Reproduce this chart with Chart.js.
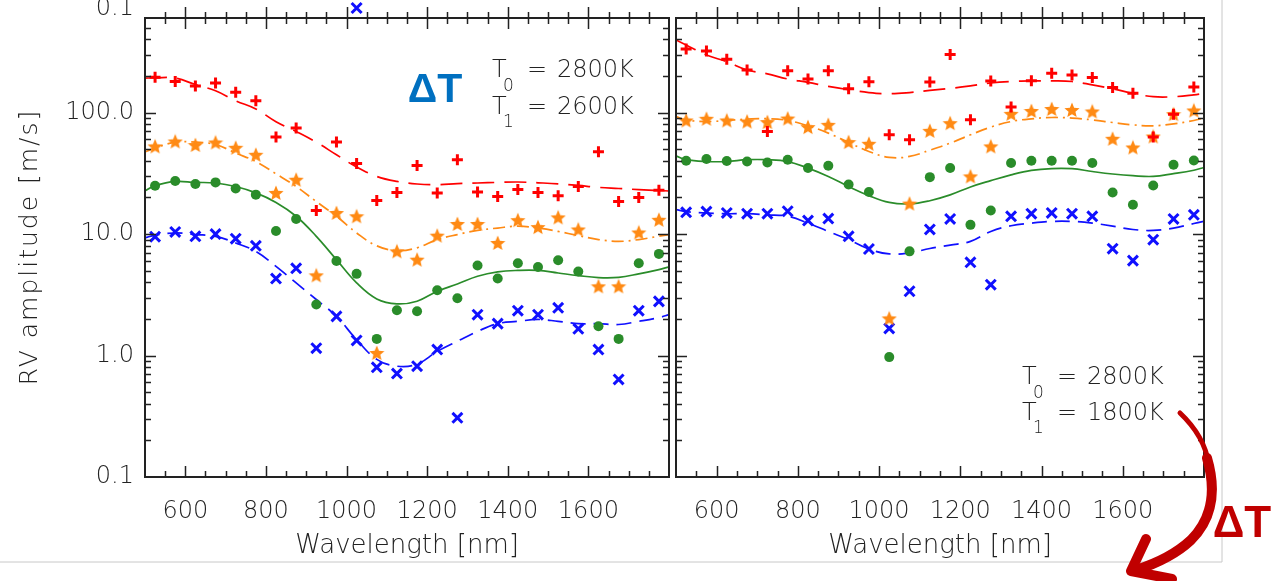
<!DOCTYPE html>
<html>
<head>
<meta charset="utf-8">
<script src="https://cdn.jsdelivr.net/npm/chart.js@4.4.0/dist/chart.umd.min.js"></script>
<style>
  html, body { margin: 0; padding: 0; background: #fff; overflow: hidden; }
  #wrap { position: relative; width: 1271px; height: 581px; }
  canvas { position: absolute; top: 0; }
  #left { left: 0; }
  #right { left: 665px; }
  svg { position: absolute; left: 0; top: 0; pointer-events: none; }
  .lbl { font-family: "DejaVu Sans"; font-weight: 300; fill: #222; }
</style>
</head>
<body>
<div id="wrap">
  <canvas id="left" width="680" height="581"></canvas>
  <canvas id="right" width="606" height="581"></canvas>
  <svg width="1271" height="581">
    <!-- screenshot frame -->
    <line x1="1222" y1="0" x2="1222" y2="562" stroke="#c8c8c8" stroke-width="1"/>
    <line x1="0" y1="562" x2="1222" y2="562" stroke="#c8c8c8" stroke-width="1"/>
    <!-- leftover label of the panel above -->
    <text class="lbl" x="134" y="15" font-size="24" text-anchor="end">0.1</text>

    <text x="435" y="102" font-family="Liberation Sans" font-weight="bold" font-size="41" fill="#0070c0" text-anchor="middle">ΔT</text>

    <text class="lbl" x="492" y="77" font-size="24">T</text>
    <text class="lbl" x="503" y="91" font-size="17">0</text>
    <text class="lbl" x="527" y="77" font-size="24">=</text>
    <text class="lbl" x="557" y="77" font-size="24">2800K</text>
    <text class="lbl" x="492" y="114" font-size="24">T</text>
    <text class="lbl" x="503" y="127" font-size="17">1</text>
    <text class="lbl" x="527" y="114" font-size="24">=</text>
    <text class="lbl" x="557" y="114" font-size="24">2600K</text>

    <text class="lbl" x="1022" y="384" font-size="24">T</text>
    <text class="lbl" x="1033" y="398" font-size="17">0</text>
    <text class="lbl" x="1057" y="384" font-size="24">=</text>
    <text class="lbl" x="1087" y="384" font-size="24">2800K</text>
    <text class="lbl" x="1022" y="420" font-size="24">T</text>
    <text class="lbl" x="1033" y="433" font-size="17">1</text>
    <text class="lbl" x="1057" y="420" font-size="24">=</text>
    <text class="lbl" x="1087" y="420" font-size="24">1800K</text>

    <!-- red brush arrow -->
    <path d="M1180,413 C1196,428 1206,445 1209,465" stroke="#c00000" stroke-width="5" fill="none" stroke-linecap="round"/>
    <path d="M1207,458 C1217,492 1211,520 1191,540 C1176,554 1158,563 1136,570" stroke="#c00000" stroke-width="10" fill="none" stroke-linecap="round"/>
    <path d="M1146,539 L1131,571 L1172,579" stroke="#c00000" stroke-width="10" fill="none" stroke-linecap="round" stroke-linejoin="round"/>
    <text x="1242" y="537" font-family="Liberation Sans" font-weight="bold" font-size="44" fill="#c00000" text-anchor="middle">ΔT</text>
  </svg>
</div>
<script>
// Wavelength grid of the measured points [nm]
const wavelengths = [525, 575, 625, 675, 725, 775, 825, 875, 925, 975, 1025, 1075, 1125,
                     1175, 1225, 1275, 1325, 1375, 1425, 1475, 1525, 1575, 1625, 1675, 1725, 1775];
// Wavelengths where the fitted curves are sampled [nm]
const fitWavelengths = [500, 525, 575, 625, 675, 725, 775, 825, 875, 925, 975, 1025, 1075, 1125,
                        1175, 1225, 1275, 1325, 1375, 1425, 1475, 1525, 1575, 1625, 1675, 1725, 1775, 1800];

const xTickLabels = [600, 800, 1000, 1200, 1400, 1600];
const yTickValues = [0.1, 1, 10, 100];
const yTickLabels = ['0.1', '1.0', '10.0', '100.0'];

// Left panel: T0 = 2800K, T1 = 2600K  (RV amplitude, m/s)
const leftRed    = [195, 180, 165, 175, 147, 125, 62.8, 74.5, 15.6, 57.1, 38.1, 18.9, 22.0,
                    36.7, 21.8, 40.9, 22.2, 20.4, 23.2, 22.0, 20.7, 24.6, 47.5, 18.5, 20.0, 22.9];
const leftOrange = [52.6, 57.8, 54, 56.7, 51.3, 44.9, 21.8, 28, 4.57, 14.9, 14.0, 1.05, 7.2,
                    6.15, 9.7, 12.1, 12.1, 8.44, 13.0, 11.4, 13.7, 10.9, 3.71, 3.71, 10.3, 13.1];
const leftGreen  = [25.0, 27.3, 25.8, 26.6, 23.7, 21.1, 10.6, 13.3, 2.63, 6.0, 4.7, 1.37, 2.36,
                    2.31, 3.44, 2.96, 5.5, 4.3, 5.74, 5.36, 6.08, 4.91, 1.74, 1.37, 5.74, 6.86];
const leftBlue   = [9.5, 10.4, 9.57, 10.0, 9.16, 8.0, 4.3, 5.22, 1.15, 2.1, 1.33, 0.80, 0.71,
                    0.817, 1.12, 0.307, 2.17, 1.83, 2.34, 2.17, 2.47, 1.66, 1.12, 0.635, 2.34, 2.79];

const leftRedFit    = [192, 193, 192, 170, 151, 125, 107, 84, 69.8, 57, 44.9, 35.6, 29.8, 27.1,
                       25.8, 25.5, 26, 26.3, 26.6, 26.8, 26.4, 25.9, 25.1, 24.2, 23.7, 23.2, 22.8, 22.6];
const leftOrangeFit = [47.3, 51, 57, 57, 54.6, 46.4, 39.5, 31.3, 24.6, 18.5, 14.0, 10.2, 8.0, 7.3,
                       7.7, 9.0, 9.9, 10.7, 11.2, 11.6, 11.2, 10.5, 9.7, 9.0, 8.7, 9.0, 9.6, 9.9];
const leftGreenFit  = [22.7, 25, 27.1, 26.6, 26.3, 24.6, 21.8, 18.2, 14.0, 9.57, 6.15, 3.96, 2.92, 2.66,
                       2.8, 3.38, 3.88, 4.49, 4.88, 5.02, 5.02, 4.78, 4.55, 4.38, 4.4, 4.7, 5.1, 5.36];
const leftBlueFit   = [9.28, 9.8, 10.2, 9.9, 9.57, 8.44, 7.2, 5.42, 3.96, 2.89, 2.1, 1.35, 0.93, 0.817,
                       0.85, 1.08, 1.31, 1.58, 1.83, 1.91, 1.98, 1.91, 1.83, 1.83, 1.80, 1.91, 2.05, 2.17];

// marker of the panel above that pokes over the top axis (wavelength, value)
const upperPanelBlue = [{ x: 1025, y: 726 }];

// Right panel: T0 = 2800K, T1 = 1800K
const rightRed    = [334, 321, 275, 224, 69.8, 221, 189, 221, 157, 179, 65.6, 59.7, 178,
                     300, 87.1, 182, 111, 183, 211, 204, 194, 161, 144, 62.8, 97, 162];
const rightOrange = [86, 88.8, 86, 84.3, 83.4, 89.3, 75.9, 79.2, 57.1, 55.3, 2.02, 17.8, 70.7,
                     81.8, 29.8, 52.6, 97.5, 103, 107, 105, 102, 60.8, 51.6, 63.5, 97, 104];
const rightGreen  = [40.1, 41.4, 39.9, 39.5, 38.8, 40.9, 34.9, 36.5, 25.6, 22.2, 0.97, 7.2, 29.4,
                     34.9, 11.9, 15.6, 38.4, 40.1, 40.1, 40.1, 38.4, 22, 17.4, 25.1, 37.2, 40.3];
const rightBlue   = [15.1, 15.3, 14.9, 14.7, 14.7, 15.4, 12.9, 13.4, 9.57, 7.53, 1.67, 3.38, 10.9,
                     13.3, 5.85, 3.83, 14, 14.7, 14.9, 14.7, 14, 7.58, 6.04, 8.99, 13.3, 14.4];

const rightRedFit    = [396, 360, 298, 262, 224, 208, 189, 177, 164, 154, 146, 143, 146, 152,
                        158, 166, 175, 180, 182, 182, 180, 169, 157, 144, 135, 135, 140, 144];
const rightOrangeFit = [92.7, 87, 84.3, 86, 88.2, 89, 86, 77.8, 67.7, 56.7, 47.8, 42.7, 43.5, 49,
                        56, 65.6, 75.9, 84.3, 88.8, 91, 90, 87, 82.8, 79.2, 77.8, 80.7, 86, 90];
const rightGreenFit  = [44, 40.9, 39.5, 39.5, 40.9, 40.9, 39.5, 34.9, 29.8, 24.6, 20.7, 18.2, 17.7, 18.8,
                        21, 24.4, 27.5, 30.7, 33.4, 34.6, 34.5, 32.7, 31.2, 30.2, 29.8, 31.4, 33.5, 35.3];
const rightBlueFit   = [15.9, 15.3, 14.9, 14.7, 14.7, 14.4, 14.0, 12.3, 10.5, 9.0, 7.53, 6.86, 7.0, 7.6,
                        8.1, 8.7, 10.5, 11.7, 12.3, 12.7, 12.7, 12.3, 11.6, 10.9, 10.7, 11.2, 12.2, 12.7];

const colors = { red: '#ff0000', orange: '#ff8a14', green: '#2a8c2a', blue: '#1010ff' };
const FONT = 'DejaVu Sans';
const TEXT = '#222';

// filled five-point star used for the orange series
function makeStar(size, color) {
    const c = document.createElement('canvas');
    c.width = size; c.height = size;
    const g = c.getContext('2d');
    const R = size / 2, r = R * 0.45;
    g.beginPath();
    for (let i = 0; i < 10; i++) {
        const a = -Math.PI / 2 + i * Math.PI / 5;
        const rr = i % 2 ? r : R;
        g.lineTo(R + rr * Math.cos(a), R + 0.6 + rr * Math.sin(a));
    }
    g.closePath();
    g.fillStyle = color;
    g.fill();
    return c;
}
const star = makeStar(16, colors.orange);

function markers(values, color, style, radius, extra) {
    return Object.assign({
        data: wavelengths.map((w, i) => ({ x: w, y: values[i] })),
        showLine: false,
        pointStyle: style,
        pointRadius: radius,
        pointBorderWidth: 3,
        borderColor: color,
        backgroundColor: color,
        order: 0
    }, extra || {});
}

function fit(values, color, dash) {
    return {
        data: fitWavelengths.map((w, i) => ({ x: w, y: values[i] })),
        showLine: true,
        borderColor: color,
        borderWidth: 1.7,
        borderDash: dash,
        pointRadius: 0,
        tension: 0.4,
        order: 1
    };
}

// box with inward ticks on all four sides
const frameTicks = {
    id: 'frameTicks',
    afterDatasetsDraw(chart) {
        const { ctx, chartArea: a, scales: { x, y } } = chart;
        ctx.save();
        ctx.strokeStyle = TEXT;
        ctx.lineWidth = 1.5;
        ctx.beginPath();
        for (let w = 550; w < 1800; w += 50) {
            const px = Math.round(x.getPixelForValue(w)) + 0.5;
            const len = xTickLabels.includes(w) ? 11 : 6;
            ctx.moveTo(px, a.bottom); ctx.lineTo(px, a.bottom - len);
            ctx.moveTo(px, a.top - len); ctx.lineTo(px, a.top + len);
        }
        for (const dec of [0.1, 1, 10, 100]) {
            for (let m = 1; m <= 9; m++) {
                const v = dec * m;
                if (v <= 0.1 || v >= 600) continue;
                const py = Math.round(y.getPixelForValue(v)) + 0.5;
                const len = m === 1 ? 11 : 6;
                ctx.moveTo(a.left, py); ctx.lineTo(a.left + len, py);
                ctx.moveTo(a.right, py); ctx.lineTo(a.right - len, py);
            }
        }
        ctx.stroke();
        ctx.lineWidth = 2;
        ctx.strokeRect(a.left, a.top, a.right - a.left, a.bottom - a.top);
        ctx.restore();
    }
};

// y axis title and the stray marker above the left panel
const leftExtras = {
    id: 'leftExtras',
    afterDraw(chart) {
        if (chart.canvas.id !== 'left') return;
        const { ctx, scales: { x, y } } = chart;
        ctx.save();
        ctx.strokeStyle = colors.blue;
        ctx.lineWidth = 3;
        ctx.beginPath();
        upperPanelBlue.forEach(p => {
            const px = x.getPixelForValue(p.x), py = y.getPixelForValue(p.y);
            ctx.moveTo(px - 5, py - 5); ctx.lineTo(px + 5, py + 5);
            ctx.moveTo(px + 5, py - 5); ctx.lineTo(px - 5, py + 5);
        });
        ctx.stroke();

        ctx.translate(37, 247);
        ctx.rotate(-Math.PI / 2);
        ctx.font = `300 25px "${FONT}"`;
        ctx.letterSpacing = '2px';
        ctx.fillStyle = TEXT;
        ctx.textAlign = 'center';
        ctx.textBaseline = 'alphabetic';
        ctx.fillText('RV amplitude [m/s]', 0, 0);
        ctx.restore();
    }
};

function makePanel(id, sets, showY, padding) {
    return new Chart(document.getElementById(id), {
        type: 'scatter',
        data: { datasets: sets },
        options: {
            responsive: false,
            animation: false,
            layout: { padding: padding },
            plugins: { legend: { display: false }, tooltip: { enabled: false } },
            scales: {
                x: {
                    type: 'linear', min: 500, max: 1800,
                    afterBuildTicks: s => { s.ticks = xTickLabels.map(v => ({ value: v })); },
                    afterFit: s => { s.height = 104; s.paddingLeft = 0; s.paddingRight = 0; },
                    grid: { display: false, drawTicks: false },
                    border: { display: false },
                    ticks: {
                        autoSkip: false, maxRotation: 0, padding: 20,
                        color: TEXT, font: { family: FONT, size: 24, weight: '300' },
                        callback: v => String(v)
                    },
                    title: {
                        display: true, text: 'Wavelength [nm]', color: TEXT,
                        font: { family: FONT, size: 26, weight: '300' },
                        padding: { top: 0, bottom: 19 }
                    }
                },
                y: {
                    type: 'logarithmic', min: 0.1, max: 600,
                    display: showY,
                    afterBuildTicks: s => { s.ticks = yTickValues.map(v => ({ value: v })); },
                    afterFit: s => {
                        s.width = showY ? 145 : 0;
                        s.paddingTop = 0;
                        s.paddingBottom = 0;
                    },
                    grid: { display: false, drawTicks: false },
                    border: { display: false },
                    ticks: {
                        autoSkip: false, padding: 11,
                        color: TEXT, font: { family: FONT, size: 24, weight: '300' },
                        callback: (v, i) => yTickLabels[i]
                    }
                }
            }
        },
        plugins: [frameTicks, leftExtras]
    });
}

makePanel('left', [
    markers(leftRed, colors.red, 'cross', 5.5),
    markers(leftOrange, colors.orange, star, 8),
    markers(leftGreen, colors.green, 'circle', 5, { pointBorderWidth: 0 }),
    markers(leftBlue, colors.blue, 'crossRot', 7),
    fit(leftRedFit, colors.red, [22, 10]),
    fit(leftOrangeFit, colors.orange, [12, 5, 2, 5]),
    fit(leftGreenFit, colors.green, []),
    fit(leftBlueFit, colors.blue, [15, 8])
], true, { top: 18, left: 0, right: 5, bottom: 0 });

makePanel('right', [
    markers(rightRed, colors.red, 'cross', 5.5),
    markers(rightOrange, colors.orange, star, 8),
    markers(rightGreen, colors.green, 'circle', 5, { pointBorderWidth: 0 }),
    markers(rightBlue, colors.blue, 'crossRot', 7),
    fit(rightRedFit, colors.red, [22, 10]),
    fit(rightOrangeFit, colors.orange, [12, 5, 2, 5]),
    fit(rightGreenFit, colors.green, []),
    fit(rightBlueFit, colors.blue, [15, 8])
], false, { top: 18, left: 10, right: 67, bottom: 0 });
</script>
</body>
</html>
